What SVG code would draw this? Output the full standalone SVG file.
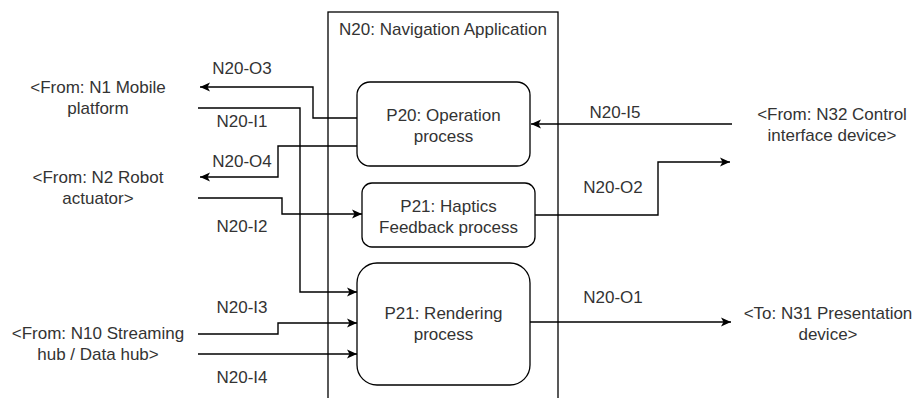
<svg xmlns="http://www.w3.org/2000/svg" width="917" height="398" viewBox="0 0 917 398">
<style>
text{font-family:"Liberation Sans",Arial,sans-serif;font-size:17px;fill:#333;text-anchor:middle}
.box{fill:#fff;stroke:#000;stroke-width:1.3}
.c{fill:none;stroke:#000;stroke-width:1.4}
.a{marker-end:url(#arr)}
</style>
<defs>
<marker id="arr" markerUnits="userSpaceOnUse" markerWidth="12" markerHeight="10" refX="11" refY="5" orient="auto">
<path d="M1,0.5 L11,5 L1,9.5 L3.5,5 Z" fill="#000"/>
</marker>
</defs>
<rect width="917" height="398" fill="#fff"/>
<g id="N20">
<rect class="box" x="328" y="12" width="230" height="400"/>
<text x="443" y="35">N20: Navigation Application</text>
</g>
<g id="P20">
<rect class="box" x="357" y="82" width="173" height="84" rx="13"/>
<text x="443.5" y="121">P20: Operation</text>
<text x="443.5" y="142">process</text>
</g>
<g id="P21H">
<rect class="box" x="362" y="183" width="173" height="64" rx="10"/>
<text x="448.5" y="212">P21: Haptics</text>
<text x="448.5" y="233">Feedback process</text>
</g>
<g id="P21R">
<rect class="box" x="357" y="263" width="173" height="122" rx="20"/>
<text x="443.5" y="319">P21: Rendering</text>
<text x="443.5" y="340">process</text>
</g>
<g id="N1"><text x="98" y="93">&lt;From: N1 Mobile</text><text x="98" y="114">platform</text></g>
<g id="N2"><text x="98" y="183">&lt;From: N2 Robot</text><text x="98" y="204">actuator&gt;</text></g>
<g id="N10"><text x="98" y="339">&lt;From: N10 Streaming</text><text x="98" y="360">hub / Data hub&gt;</text></g>
<g id="N32"><text x="832" y="120">&lt;From: N32 Control</text><text x="832" y="141">interface device&gt;</text></g>
<g id="N31"><text x="828" y="319">&lt;To: N31 Presentation</text><text x="828" y="340">device&gt;</text></g>
<g id="connectors">
<polyline class="c a" points="357,118 313,118 313,87 200,87"/>
<polyline class="c a" points="357,146 278,146 278,177 200,177"/>
<polyline class="c a" points="198,108 300,108 300,292 357,292"/>
<polyline class="c a" points="198,198 282,198 282,214 362,214"/>
<polyline class="c a" points="198,334 278,334 278,323 357,323"/>
<polyline class="c a" points="198,354 357,354"/>
<polyline class="c a" points="732,124 531,124"/>
<polyline class="c a" points="535,215 658,215 658,162 730,162"/>
<polyline class="c a" points="530,322 731,322"/>
<text x="242" y="74">N20-O3</text>
<text x="242" y="127">N20-I1</text>
<text x="242" y="167">N20-O4</text>
<text x="242" y="232">N20-I2</text>
<text x="242" y="313">N20-I3</text>
<text x="242" y="383">N20-I4</text>
<text x="615" y="118">N20-I5</text>
<text x="613" y="193">N20-O2</text>
<text x="613" y="303">N20-O1</text>
</g>
</svg>
